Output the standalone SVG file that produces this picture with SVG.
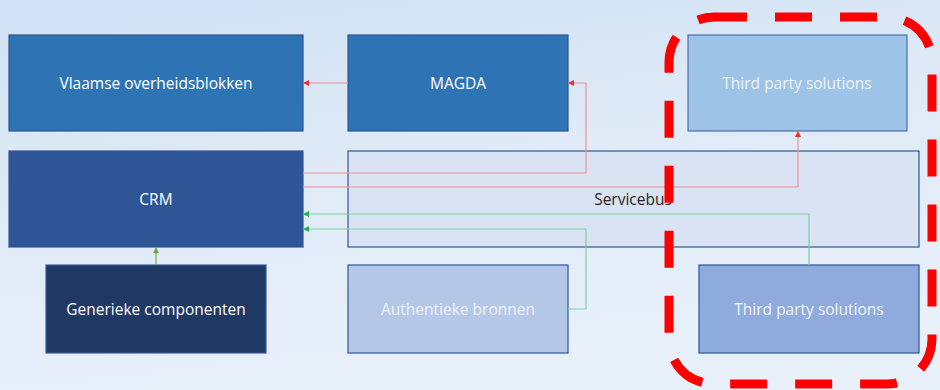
<svg xmlns="http://www.w3.org/2000/svg" width="940" height="390" viewBox="0 0 940 390">
<defs>
<linearGradient id="bg" x1="0" y1="0" x2="0.3" y2="1">
<stop offset="0" stop-color="#cfe1f4"/>
<stop offset="0.5" stop-color="#e0ebf7"/>
<stop offset="1" stop-color="#e8f0fa"/>
</linearGradient>
<marker id="ar" viewBox="0 0 10 10" refX="10" refY="5" markerWidth="6" markerHeight="6" orient="auto" markerUnits="userSpaceOnUse"><path d="M0,0L10,5L0,10z" fill="#e83030"/></marker>
<marker id="ag" viewBox="0 0 10 10" refX="10" refY="5" markerWidth="6" markerHeight="6" orient="auto" markerUnits="userSpaceOnUse"><path d="M0,0L10,5L0,10z" fill="#22b050"/></marker>
<marker id="ag2" viewBox="0 0 10 10" refX="10" refY="5" markerWidth="6" markerHeight="6" orient="auto" markerUnits="userSpaceOnUse"><path d="M0,0L10,5L0,10z" fill="#70ad47"/></marker>
</defs>
<style>
.box{stroke:#2f5597;stroke-width:1.2}
.t{font-family:"Open Sans","Liberation Sans",sans-serif;font-size:15.5px;fill:#ffffff;text-anchor:middle;dominant-baseline:central}
.red{fill:none;stroke:#f09090;stroke-width:1.2}
.grn{fill:none;stroke:#7cd0a4;stroke-width:1.2}
</style>
<rect width="940" height="390" fill="url(#bg)"/>
<g id="vlaamse"><rect class="box" x="9" y="35" width="294" height="96" fill="#2e74b5"/><text class="t" x="156" y="83">Vlaamse overheidsblokken</text></g>
<g id="magda"><rect class="box" x="348" y="35" width="220" height="96" fill="#2e74b5"/><text class="t" x="458" y="83">MAGDA</text></g>
<g id="third1"><rect class="box" x="688" y="35" width="219" height="96" fill="#9dc3e6" stroke-opacity="0.8"/><text class="t" x="797" y="83" style="fill:#eef4fb">Third party solutions</text></g>
<g id="crm"><rect class="box" x="9" y="151" width="294" height="96" fill="#2f5597"/><text class="t" x="156" y="199">CRM</text></g>
<g id="servicebus"><rect class="box" x="348" y="151" width="571" height="96" fill="#dae3f3"/><text class="t" x="633" y="199" style="fill:#262626">Servicebus</text></g>
<g id="generieke"><rect class="box" x="46" y="265" width="220" height="88" fill="#203864" style="stroke:#3a5a98"/><text class="t" x="156" y="309">Generieke componenten</text></g>
<g id="authentieke"><rect class="box" x="348" y="265" width="220" height="88" fill="#b4c7e7"/><text class="t" x="458" y="309" style="fill:#eef3fb">Authentieke bronnen</text></g>
<g id="third2"><rect class="box" x="699" y="265" width="220" height="88" fill="#8faadc"/><text class="t" x="809" y="309" style="fill:#f2f5fb">Third party solutions</text></g>
<g id="connectors">
<path class="red" d="M348,83H303" marker-end="url(#ar)"/>
<path class="red" d="M303,173H586V83H568" marker-end="url(#ar)"/>
<path class="red" d="M303,187H798V131" marker-end="url(#ar)"/>
<path class="grn" d="M809,265V214H303" marker-end="url(#ag)"/>
<path class="grn" d="M568,309H586V229H303" marker-end="url(#ag)"/>
<path d="M156,265V247" fill="none" stroke="#70ad47" stroke-width="1.2" marker-end="url(#ag2)"/>
</g>
<g id="highlight"><rect x="669" y="17" width="263" height="367" rx="45" ry="45" fill="none" stroke="#ff0000" stroke-width="9" stroke-dasharray="37 28" stroke-dashoffset="4"/></g>
</svg>
